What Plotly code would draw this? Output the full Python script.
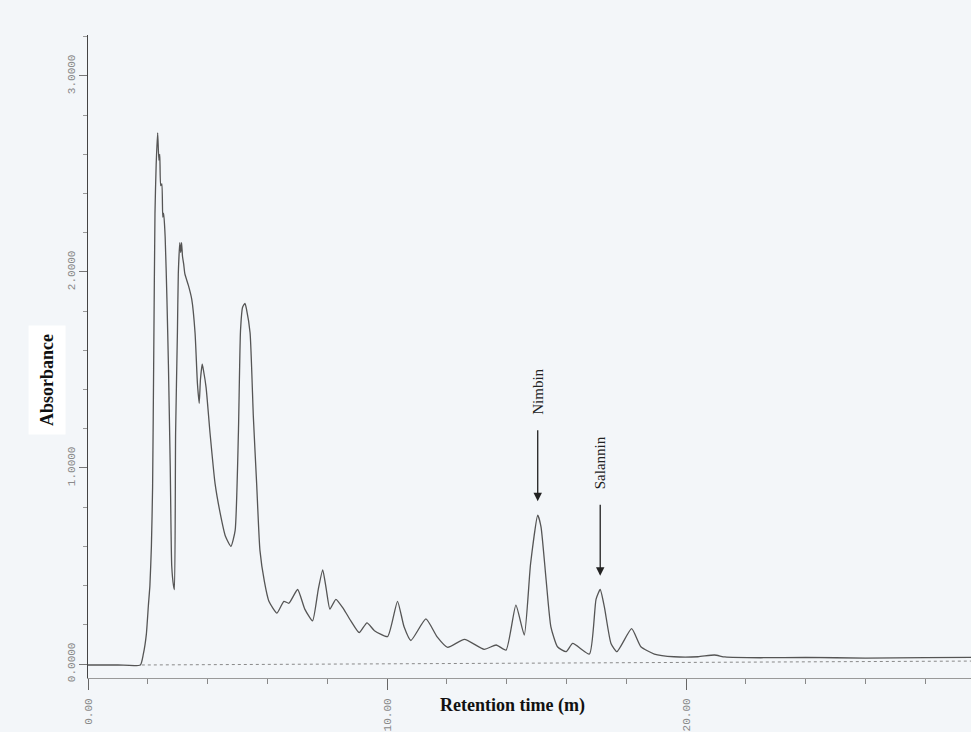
import plotly.graph_objects as go

# ---- data ----
time_min = [0.0, 1.0, 1.75, 1.85, 1.95, 2.02, 2.07, 2.12, 2.16, 2.20, 2.24, 2.28, 2.33,
            2.37, 2.40, 2.43, 2.47, 2.50, 2.53, 2.58, 2.64, 2.69, 2.75, 2.80, 2.86, 2.89,
            2.93, 2.99, 3.02, 3.07, 3.10, 3.13, 3.16, 3.20, 3.24, 3.36, 3.47, 3.58, 3.66,
            3.72, 3.76, 3.82, 3.86, 3.95, 4.08, 4.25, 4.42, 4.60, 4.78, 4.92, 5.03, 5.10,
            5.17, 5.25, 5.30, 5.42, 5.53, 5.64, 5.75, 5.90, 6.05, 6.32, 6.55, 6.72, 7.01,
            7.25, 7.51, 7.70, 7.85, 7.97, 8.09, 8.29, 8.55, 8.79, 9.07, 9.33, 9.58, 10.02,
            10.35, 10.57, 10.80, 11.30, 11.67, 12.03, 12.59, 13.25, 13.65, 13.98, 14.31,
            14.59, 14.80, 15.04, 15.15, 15.32, 15.48, 15.70, 15.99, 16.21, 16.77, 16.99,
            17.13, 17.27, 17.49, 17.69, 18.18, 18.49, 18.94, 19.60, 20.40, 20.95, 21.30,
            22.50, 24.00, 26.00, 28.00, 29.60]
absorbance = [-0.005, -0.005, -0.005, 0.05, 0.15, 0.30, 0.40, 0.60, 0.90, 1.60, 2.30, 2.55, 2.71,
              2.57, 2.60, 2.44, 2.45, 2.28, 2.30, 2.18, 1.86, 1.52, 1.01, 0.50, 0.40, 0.38,
              1.18, 1.69, 1.99, 2.15, 2.10, 2.15, 2.08, 2.04, 1.99, 1.93, 1.86, 1.69, 1.43,
              1.33, 1.45, 1.53, 1.50, 1.41, 1.18, 0.92, 0.77, 0.65, 0.60, 0.68, 1.18, 1.70,
              1.82, 1.84, 1.81, 1.69, 1.26, 0.92, 0.58, 0.42, 0.32, 0.26, 0.32, 0.31, 0.38,
              0.28, 0.22, 0.38, 0.48, 0.38, 0.28, 0.33, 0.28, 0.22, 0.16, 0.21, 0.17, 0.14,
              0.32, 0.19, 0.12, 0.23, 0.14, 0.085, 0.126, 0.075, 0.097, 0.071, 0.30,
              0.148, 0.51, 0.76, 0.70, 0.43, 0.19, 0.088, 0.063, 0.105, 0.051, 0.33,
              0.38, 0.29, 0.105, 0.063, 0.18, 0.088, 0.051, 0.037, 0.037, 0.046, 0.036,
              0.032, 0.034, 0.030, 0.033, 0.034]

baseline_time = [1.8, 29.6]
baseline_abs = [-0.005, 0.015]

peak_names = ["Nimbin", "Salannin"]
peak_times = [15.04, 17.13]
peak_heights = [0.76, 0.38]

y_tick_vals = [0, 1, 2, 3]
y_tick_text = ["0.0000", "1.0000", "2.0000", "3.0000"]
x_tick_vals = [0, 10, 20]
x_tick_text = ["0.00", "10.00", "20.00"]

bg = "#f3f6f9"

fig = go.Figure()
fig.add_trace(go.Scatter(x=baseline_time, y=baseline_abs, mode="lines",
                         line=dict(color="#8a8a8a", width=1, dash="dot"),
                         hoverinfo="skip", showlegend=False))
fig.add_trace(go.Scatter(x=time_min, y=absorbance, mode="lines",
                         line=dict(color="#555555", width=1.3, shape="spline", smoothing=0.5),
                         showlegend=False))

annotations = []
for name, t, h in zip(peak_names, peak_times, peak_heights):
    annotations.append(dict(x=t, y=h + 0.07, ax=t, ay=h + 0.44, xref="x", yref="y",
                            axref="x", ayref="y", showarrow=True, arrowhead=2,
                            arrowsize=1.3, arrowwidth=1.3, arrowcolor="#222222", text=""))
    annotations.append(dict(x=t, y=h + 0.50, xref="x", yref="y", text=name,
                            textangle=-90, showarrow=False, xanchor="center", yanchor="bottom",
                            font=dict(family="Liberation Serif", size=15, color="#222222")))

annotations.append(dict(x=-0.0464, y=0.4635, xref="paper", yref="paper",
                        xanchor="center", yanchor="middle",
                        text="<b>Absorbance</b>", textangle=-90, showarrow=False,
                        bgcolor="white", borderpad=8,
                        font=dict(family="Liberation Serif", size=18, color="#111111")))
annotations.append(dict(x=0.481, y=-0.0435, xref="paper", yref="paper",
                        xanchor="center", yanchor="middle",
                        text="<b>Retention time (m)</b>", showarrow=False,
                        font=dict(family="Liberation Serif", size=18, color="#111111")))

fig.update_layout(
    width=971, height=732,
    margin=dict(l=88, r=0, t=35, b=54),
    paper_bgcolor=bg, plot_bgcolor=bg,
    annotations=annotations,
    xaxis=dict(range=[0, 29.53], tickvals=x_tick_vals, ticktext=x_tick_text,
               tickangle=-90, ticks="outside", ticklen=11, tickcolor="#666666",
               ticklabelstandoff=4, automargin=False,
               minor=dict(dtick=2, ticks="outside", ticklen=5, tickcolor="#888888"),
               showline=True, linecolor="#999999", linewidth=1,
               showgrid=False, zeroline=False,
               tickfont=dict(family="Liberation Mono", size=11, color="#8a8a8a")),
    yaxis=dict(range=[-0.0714, 3.209], tickvals=y_tick_vals, ticktext=y_tick_text,
               tickangle=-90, ticks="outside", ticklen=8, tickcolor="#777777",
               automargin=False,
               minor=dict(dtick=0.2, ticks="outside", ticklen=4, tickcolor="#999999"),
               showline=True, linecolor="#444444", linewidth=1.2,
               showgrid=False, zeroline=False,
               tickfont=dict(family="Liberation Mono", size=11, color="#8a8a8a")),
)

fig.write_html("out.html",
               config={"displayModeBar": False},
               post_script="document.body.style.margin='0px';"
                           "document.body.style.overflow='hidden';"
                           "document.body.style.background='" + bg + "';")
